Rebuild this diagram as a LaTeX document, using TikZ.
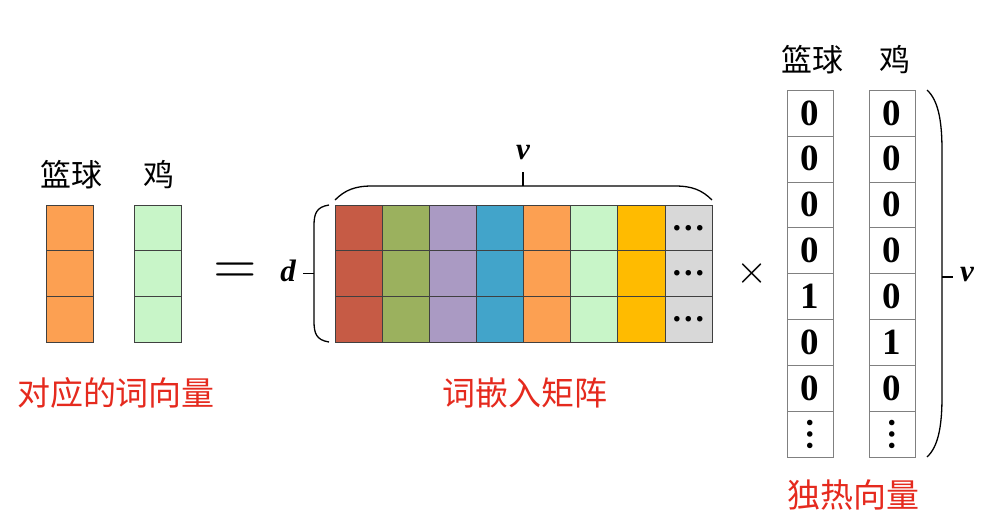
\documentclass[tikz,border=0pt]{standalone}
\usepackage{fontspec}
\setmainfont{Liberation Serif}
\newfontfamily\cjk{Noto Sans CJK SC}

\definecolor{cred}{HTML}{C65B45}
\definecolor{cgreen}{HTML}{9BB15E}
\definecolor{cpurple}{HTML}{AA9AC3}
\definecolor{cblue}{HTML}{42A4CA}
\definecolor{corange}{HTML}{FCA052}
\definecolor{clgreen}{HTML}{C8F5C8}
\definecolor{cyellow}{HTML}{FFBB00}
\definecolor{cgray}{HTML}{D8D8D8}
\definecolor{labelred}{HTML}{E52A1E}

\tikzset{
	cell/.style={draw=black!75, minimum width=47.1pt, minimum height=45.7pt, inner sep=0pt, outer sep=0pt},
	bit/.style={draw=black!50, minimum width=46pt, minimum height=45.9pt, inner sep=0pt, outer sep=0pt, font=\fontsize{37}{37}\selectfont\bfseries},
	zh/.style={font=\cjk\fontsize{31}{31}\selectfont},
	zhred/.style={font=\cjk\fontsize{33}{33}\selectfont, text=labelred},
	sym/.style={font=\fontsize{31}{31}\selectfont\bfseries\itshape},
	ell/.style={font=\fontsize{34}{34}\selectfont\bfseries, inner sep=0pt},
	bracepath/.style={line width=1.3pt}
}

\begin{document}
\begin{tikzpicture}[x=1pt,y=-1pt]
\useasboundingbox (0,0) rectangle (997,520);

% word vectors
\foreach \r in {0,1,2} {
	\node[cell, fill=corange] (wa\r) at (69.5,227.8+\r*45.7) {};
	\node[cell, fill=clgreen] (wb\r) at (157.5,227.8+\r*45.7) {};
}
\node[zh] (wahead) at (72,175) {篮球};
\node[zh] (wbhead) at (159,175) {鸡};
\node[zhred] (wlabel) at (116,393) {对应的词向量};

\node[scale=5.6] (eq) at (235,273) {$=$};

% embedding matrix
\foreach \col [count=\i from 0] in {cred,cgreen,cpurple,cblue,corange,clgreen,cyellow,cgray} {
	\foreach \r in {0,1,2} {
		\node[cell, fill=\col] (m\i-\r) at (358.6+\i*47.1,227.8+\r*45.7) {};
	}
}
\node[ell] (mdotsa) at (688.3,227.8) {…};
\node[ell] (mdotsb) at (688.3,273.5) {…};
\node[ell] (mdotsc) at (688.3,319.2) {…};
\node[zhred] (mlabel) at (525,393) {词嵌入矩阵};

% braces of the matrix
\draw[bracepath] (329,205) .. controls (316,207) and (314,214) .. (314,226) -- (314,321)
	.. controls (314,333) and (316,340) .. (329,342);
\draw[bracepath] (314,273.5) -- (303,273.5);
\node[sym] (d) at (288,271) {d};
\draw[bracepath] (335,200) .. controls (345,190) and (355,186) .. (372,186) -- (675,186)
	.. controls (692,186) and (702,190) .. (712,200);
\draw[bracepath] (523,186) -- (523,172);
\node[sym] (vtop) at (523,153) {v};

\node[scale=4] (times) at (752,273) {$\times$};

% one-hot vectors
\foreach \a/\b [count=\k from 0] in {0/0,0/0,0/0,0/0,1/0,0/1,0/0} {
	\node[bit] (oa\k) at (810,112.9+\k*45.9) {\a};
	\node[bit] (ob\k) at (892,112.9+\k*45.9) {\b};
}
\node[bit] (oa7) at (810,434.2) {};
\node[bit] (ob7) at (892,434.2) {};
\node[ell, rotate=90] (oadots) at (oa7) {…};
\node[ell, rotate=90] (obdots) at (ob7) {…};
\node[zh] (oahead) at (812,60) {篮球};
\node[zh] (obhead) at (895,60) {鸡};
\node[zhred] (olabel) at (853,495) {独热向量};

\draw[bracepath] (927,90) .. controls (938,100) and (942,120) .. (942,150) -- (942,397)
	.. controls (942,427) and (938,447) .. (927,457);
\draw[bracepath] (942,277) -- (953,277);
\node[sym] (vright) at (967,275) {v};

\end{tikzpicture}
\end{document}
